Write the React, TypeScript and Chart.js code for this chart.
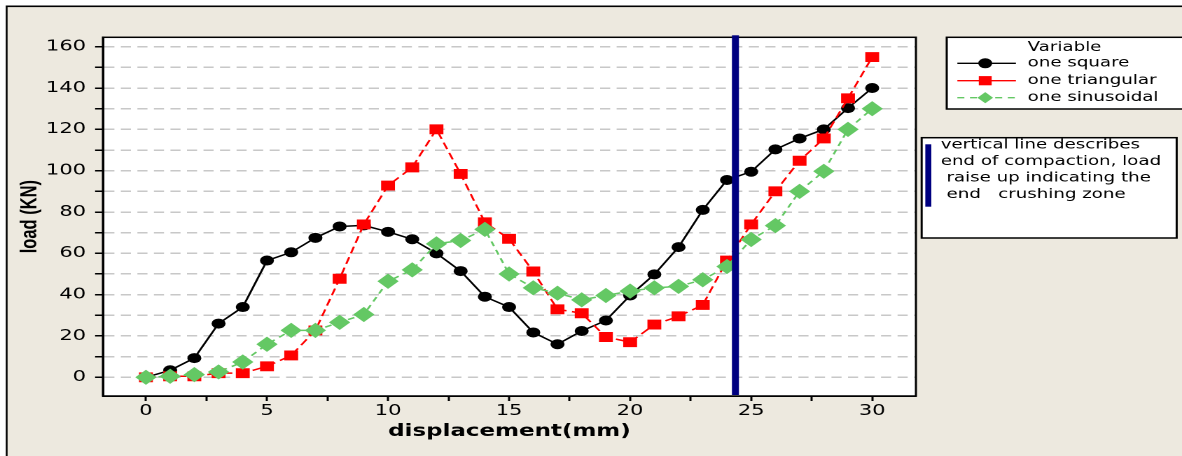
import React, { useEffect, useRef } from 'react';
import { Chart, registerables } from 'chart.js';

Chart.register(...registerables);

// ---------------- data ----------------
const displacement = [0, 1, 2, 3, 4, 5, 6, 7, 8, 9, 10, 11, 12, 13, 14, 15, 16, 17, 18, 19, 20, 21, 22, 23, 24, 25, 26, 27, 28, 29, 30];
const oneSquare = [0, 3.4, 9.3, 26, 34, 56.5, 60.5, 67.5, 73, 73.5, 70.4, 66.8, 60, 51.4, 39, 34, 21.7, 16, 22.4, 27.5, 39.6, 49.8, 63, 81, 95.5, 99.5, 110.3, 115.6, 120, 130.3, 140];
const oneTriangular = [0, 0.5, 0.5, 2, 2, 5.3, 10.6, 22.7, 47.7, 74, 92.8, 101.6, 120, 98.4, 75, 67, 51.2, 32.9, 31, 19.5, 17, 25.5, 29.5, 35, 56.5, 74, 90, 104.8, 115.6, 135, 155];
const oneSinusoidal = [0, 0.5, 1.3, 2.6, 7.4, 16, 22.7, 22.7, 26.6, 30.4, 46.5, 52, 64.6, 66.2, 71.6, 50, 43.3, 40.7, 37.5, 39.6, 41.7, 43.3, 44, 47.2, 53.6, 66.7, 73.4, 90, 99.7, 120, 130];
const seriesLabels = ['one square', 'one triangular', 'one sinusoidal'];
const legendTitle = 'Variable';
const compactionEndX = 24.35;
const noteLines = ['vertical line describes', 'end of compaction, load', ' raise up indicating the', ' end   crushing zone'];
const xTitle = 'displacement(mm)';
const yTitle = 'load (KN)';
const xMin = -1.776;
const xMax = 31.805;
const yMin = -9.05;
const yMax = 164.55;

// ---------------- layout ----------------
const W = 844; // logical width (displayed stretched to 1182)
const H = 456;
const CSS_W = 1182;

const BEIGE = '#EDE9DF';
const RED = '#FF0000';
const GREEN = '#64C864';
const NAVY = '#000080';

function pts(vals: number[]) {
  return displacement.map((x, i) => ({ x, y: vals[i] }));
}

function drawMarker(ctx: CanvasRenderingContext2D, style: string, x: number, y: number, r: number, color: string) {
  ctx.save();
  ctx.fillStyle = color;
  ctx.beginPath();
  if (style === 'circle') {
    ctx.arc(x, y, r, 0, Math.PI * 2);
  } else if (style === 'rect') {
    const s = r * Math.SQRT1_2;
    ctx.rect(x - s, y - s, 2 * s, 2 * s);
  } else {
    ctx.moveTo(x, y - r);
    ctx.lineTo(x + r, y);
    ctx.lineTo(x, y + r);
    ctx.lineTo(x - r, y);
    ctx.closePath();
  }
  ctx.fill();
  ctx.restore();
}

const decorPlugin = {
  id: 'decor',
  beforeDraw(chart: any) {
    const { ctx, chartArea } = chart;
    ctx.save();
    ctx.fillStyle = '#FFFFFF';
    ctx.fillRect(0, 0, W, H);
    ctx.fillStyle = BEIGE;
    ctx.fillRect(4.3, 6, W, H);
    ctx.fillStyle = '#000000';
    ctx.fillRect(4.3, 5.5, W, 1.6);
    ctx.fillRect(4.1, 5.5, 1.3, H);
    ctx.fillStyle = '#FFFFFF';
    ctx.fillRect(chartArea.left, chartArea.top, chartArea.right - chartArea.left, chartArea.bottom - chartArea.top);
    ctx.restore();
  },
  beforeDatasetsDraw(chart: any) {
    const { ctx, chartArea } = chart;
    ctx.save();
    ctx.strokeStyle = '#000000';
    ctx.lineWidth = 1.5;
    ctx.strokeRect(chartArea.left, chartArea.top, chartArea.right - chartArea.left, chartArea.bottom - chartArea.top);
    ctx.restore();
  },
  afterDatasetsDraw(chart: any) {
    const { ctx, chartArea, scales } = chart;
    const x = scales.x.getPixelForValue(compactionEndX);
    ctx.save();
    ctx.fillStyle = NAVY;
    ctx.fillRect(x - 2.5, chartArea.top - 2, 5, chartArea.bottom - chartArea.top + 1);
    ctx.restore();
  },
  afterDraw(chart: any) {
    const { ctx } = chart;
    ctx.save();
    // legend box
    ctx.fillStyle = '#FFFFFF';
    ctx.fillRect(676, 37.3, 172, 71.7);
    ctx.strokeStyle = '#000000';
    ctx.lineWidth = 1.5;
    ctx.strokeRect(676, 37.3, 172, 71.7);
    ctx.font = '13px "DejaVu Sans"';
    ctx.fillStyle = '#000000';
    ctx.textBaseline = 'middle';
    ctx.textAlign = 'left';
    ctx.fillText(legendTitle, 733.8, 47.7);
    const rows = [63.3, 80.7, 97.7];
    const legendDash = [[], [], [5, 4]];
    chart.data.datasets.forEach((ds: any, i: number) => {
      const y = rows[i];
      ctx.save();
      ctx.strokeStyle = ds.borderColor;
      ctx.lineWidth = 1.3;
      ctx.setLineDash(legendDash[i]);
      ctx.beginPath();
      ctx.moveTo(683.6, y);
      ctx.lineTo(725.4, y);
      ctx.stroke();
      ctx.restore();
      const r = ds.pointStyle === 'rect' ? 6.5 : ds.pointStyle === 'circle' ? 5 : 5.6;
      drawMarker(ctx, ds.pointStyle, 703.5, y, r, ds.pointBackgroundColor);
      ctx.fillStyle = '#000000';
      ctx.fillText(ds.label, 733.8, y);
    });
    // note box
    ctx.fillStyle = '#FFFFFF';
    ctx.fillRect(658.1, 137.7, 182.1, 100.3);
    ctx.strokeStyle = '#000000';
    ctx.lineWidth = 1.5;
    ctx.strokeRect(658.1, 137.7, 182.1, 100.3);
    ctx.fillStyle = NAVY;
    ctx.fillRect(660.7, 144.3, 4.3, 62.4);
    ctx.fillStyle = '#000000';
    const noteY = [145, 161.5, 178, 194.5];
    noteLines.forEach((t, i) => ctx.fillText(t, 671.7, noteY[i]));
    ctx.restore();
  },
};

export default function App() {
  const ref = useRef<HTMLCanvasElement>(null);
  useEffect(() => {
    document.body.style.margin = '0';
    const canvas = ref.current!;
    const tickFont = { family: 'DejaVu Sans', size: 15 };
    const chart = new Chart(canvas, {
      type: 'line',
      data: {
        datasets: [
          {
            label: seriesLabels[0],
            data: pts(oneSquare),
            order: 3,
            borderColor: '#000000',
            borderWidth: 1.5,
            pointStyle: 'circle',
            pointRadius: 5,
            pointBackgroundColor: '#000000',
            pointBorderWidth: 0,
            tension: 0,
          },
          {
            label: seriesLabels[1],
            data: pts(oneTriangular),
            order: 2,
            borderColor: RED,
            borderWidth: 1.5,
            borderDash: [7, 4],
            pointStyle: 'rect',
            pointRadius: 7,
            pointBackgroundColor: RED,
            pointBorderWidth: 0,
            tension: 0,
          },
          {
            label: seriesLabels[2],
            data: pts(oneSinusoidal),
            order: 1,
            borderColor: GREEN,
            borderWidth: 1.5,
            borderDash: [5, 4],
            pointStyle: 'rectRot',
            pointRadius: 7.6,
            pointBackgroundColor: GREEN,
            pointBorderWidth: 0,
            tension: 0,
          },
        ] as any,
      },
      options: {
        animation: false,
        responsive: false,
        devicePixelRatio: 2,
        layout: { padding: { left: 0, top: 37.3, right: W - 654, bottom: 0 } },
        plugins: {
          legend: { display: false },
          tooltip: { enabled: false },
          title: { display: false },
        },
        scales: {
          x: {
            type: 'linear',
            min: xMin,
            max: xMax,
            afterFit: (s: any) => { s.height = 60; },
            ticks: {
              stepSize: 2.5,
              includeBounds: false,
              autoSkip: false,
              maxRotation: 0,
              padding: 1,
              color: '#000000',
              font: tickFont,
              callback: (v: any) => (Math.abs(v % 5) < 1e-9 ? String(v) : ''),
            },
            grid: {
              drawOnChartArea: false,
              drawTicks: true,
              tickLength: 5,
              tickColor: '#000000',
              tickWidth: 1.5,
              color: '#000000',
            },
            border: { display: true, color: '#000000', width: 1.5 },
            title: {
              display: true,
              text: xTitle,
              color: '#000000',
              font: { family: 'DejaVu Sans', size: 16.4, weight: 'bold' },
              padding: { top: 0, bottom: 14.5 },
            },
          },
          y: {
            type: 'linear',
            min: yMin,
            max: yMax,
            afterFit: (s: any) => { s.width = 73.5; },
            ticks: {
              stepSize: 10,
              includeBounds: false,
              autoSkip: false,
              padding: 6.5,
              color: '#000000',
              font: tickFont,
              callback: (v: any) => (Math.abs(v % 20) < 1e-9 ? String(v) : ''),
            },
            grid: {
              color: '#C8C8C8',
              lineWidth: 1.5,
              drawTicks: true,
              tickLength: 5.6,
              tickColor: '#000000',
              tickWidth: 1.5,
              tickBorderDash: [],
            },
            border: { display: true, color: '#000000', width: 1.5, dash: [7.2, 4.6] },
            title: {
              display: true,
              text: yTitle,
              color: '#000000',
              font: { family: 'Liberation Sans', size: 16.5, weight: 'bold' },
              padding: { top: 11.5, bottom: 0 },
            },
          },
        },
      } as any,
      plugins: [decorPlugin],
    });
    return () => chart.destroy();
  }, []);
  return (
    <canvas
      ref={ref}
      width={W}
      height={H}
      style={{ width: CSS_W + 'px', height: H + 'px', display: 'block' }}
    />
  );
}
